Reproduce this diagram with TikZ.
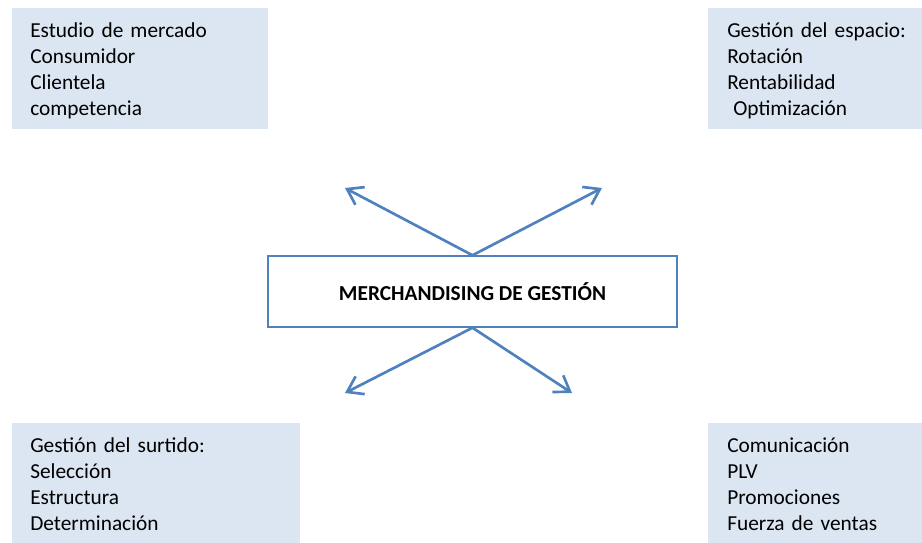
\documentclass[tikz,border=0pt]{standalone}
\usepackage{fontspec}
\setmainfont{Carlito}
\usetikzlibrary{arrows.meta, positioning}
\definecolor{boxfill}{HTML}{DCE6F2}
\definecolor{accblue}{HTML}{4F81BD}
\tikzset{
  info/.style={rectangle, fill=boxfill, anchor=north west, align=left,
    inner xsep=13.5pt, inner ysep=0pt,
    font=\fontsize{16}{19.5}\selectfont},
  core/.style={rectangle, draw=accblue, line width=1.1pt, fill=white,
    minimum width=306.75pt, minimum height=53.25pt,
    font=\fontsize{16}{19.5}\selectfont\bfseries},
  arr/.style={-{Straight Barb[length=11pt, width=15pt]},
    line width=2pt, draw=accblue},
}

\begin{document}
\begin{tikzpicture}[x=0.75pt, y=-0.75pt]
  \useasboundingbox (0,0) rectangle (922,543);

  % -- four areas --
  \node[info, text width=165pt, minimum height=90.75pt] (mkt) at (12,8)
       {\rule{0pt}{14pt}Estudio de mercado\\ Consumidor\\ Clientela\\ competencia};
  \node[info, text width=140pt, minimum height=90.75pt,
        inner xsep=14.25pt] (esp) at (708,8)
       {\rule{0pt}{14pt}Gestión del espacio:\\ Rotación\\ Rentabilidad\\
        \hspace*{4.5pt}Optimización};
  \node[info, text width=189pt, minimum height=92pt] (surt) at (12,423)
       {Gestión del surtido:\\ Selección\\ Estructura\\ Determinación};
  \node[info, text width=140pt, minimum height=92pt,
        inner xsep=14.25pt] (com) at (708,423)
       {Comunicación\\ PLV\\ Promociones\\ Fuerza de ventas};

  % -- central box --
  \node[core] (mdg) at (472.5,291.5) {MERCHANDISING DE GESTIÓN};

  % arrow ends
  \coordinate (tl) at (345,188);
  \coordinate (tr) at (602,188);
  \coordinate (bl) at (345,393);
  \coordinate (br) at (572,393);

  \draw[arr] (mdg.north) -- (tl);
  \draw[arr] (mdg.north) -- (tr);
  \draw[arr] (mdg.south) -- (bl);
  \draw[arr] (mdg.south) -- (br);
\end{tikzpicture}
\end{document}
